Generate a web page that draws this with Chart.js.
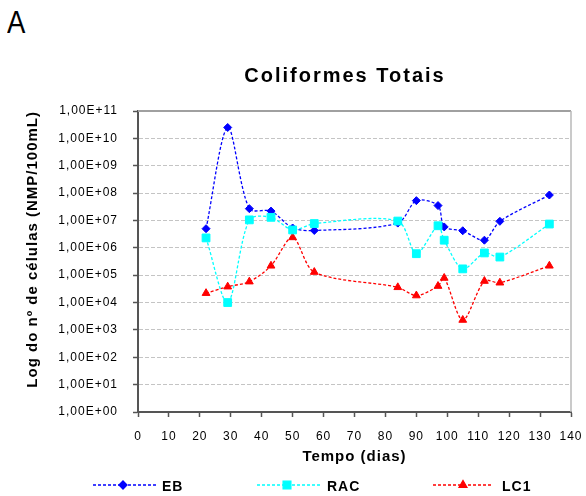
<!DOCTYPE html>
<html>
<head>
<meta charset="utf-8">
<script src="https://cdn.jsdelivr.net/npm/chart.js@4.4.0/dist/chart.umd.min.js"></script>
<style>
  body { margin: 0; background: #fff; }
  #wrap { position: relative; width: 586px; height: 496px; overflow: hidden; }
  #painel { position: absolute; left: 7px; top: 6px; font: 32px "Liberation Sans", Arial, sans-serif; line-height: 1; transform: scaleX(0.86); transform-origin: left top; }
  canvas { position: absolute; left: 0; top: 0; }
</style>
</head>
<body>
<div id="wrap">
  <div id="painel">A</div>
  <canvas id="grafico" width="586" height="496"></canvas>
</div>
<script>
// dias de coleta (iguais para os tres pontos)
var dias = [22, 29, 36, 43, 50, 57, 84, 90, 97, 99, 105, 112, 117, 133];

// NMP/100mL
var valoresEB  = [5.0e6, 2.5e10, 2.7e7, 2.2e7, 5.3e6, 4.3e6, 8.0e6, 5.3e7, 3.5e7, 5.8e6, 4.2e6, 1.9e6, 9.3e6, 8.5e7];
var valoresRAC = [2.3e6, 1.0e4, 1.05e7, 1.3e7, 4.5e6, 7.7e6, 9.5e6, 6.1e5, 6.4e6, 1.9e6, 1.7e5, 6.5e5, 4.6e5, 7.4e6];
var valoresLC1 = [2.2e4, 3.8e4, 5.8e4, 2.2e5, 2.4e6, 1.3e5, 3.6e4, 1.8e4, 4.0e4, 7.9e4, 2.3e3, 6.1e4, 5.3e4, 2.2e5];

var ticksY = [1, 1e1, 1e2, 1e3, 1e4, 1e5, 1e6, 1e7, 1e8, 1e9, 1e10, 1e11];
var rotulosY = ["1,00E+00", "1,00E+01", "1,00E+02", "1,00E+03", "1,00E+04", "1,00E+05",
                "1,00E+06", "1,00E+07", "1,00E+08", "1,00E+09", "1,00E+10", "1,00E+11"];

var fonte = '"Liberation Sans", Arial, sans-serif';
Chart.defaults.font.family = fonte;
Chart.defaults.color = '#000';

function pontos(valores) {
    return dias.map(function (d, i) { return { x: d, y: valores[i] }; });
}

// posicoes da legenda embaixo do grafico
var legendaPos = [
    { x0: 93,  x1: 156, xm: 123, xt: 162 },
    { x0: 257, x1: 320, xm: 287, xt: 327 },
    { x0: 433, x1: 493, xm: 463, xt: 502 }
];

var extras = {
    id: 'extras',
    beforeDraw: function (chart) {
        chart.ctx.letterSpacing = '1px';
    },
    beforeDatasetsDraw: function (chart) {
        var ctx = chart.ctx, a = chart.chartArea;
        ctx.save();
        ctx.strokeStyle = '#a0a0a0';
        ctx.lineWidth = 2;
        ctx.beginPath();
        ctx.moveTo(a.left, a.top);
        ctx.lineTo(a.right, a.top);
        ctx.stroke();
        ctx.strokeStyle = '#b8b8b8';
        ctx.lineWidth = 1.5;
        ctx.beginPath();
        ctx.moveTo(a.right, a.top);
        ctx.lineTo(a.right, a.bottom);
        ctx.stroke();
        ctx.restore();
    },
    afterDraw: function (chart) {
        var ctx = chart.ctx;
        ctx.save();
        // titulo
        ctx.letterSpacing = '2px';
        ctx.font = 'bold 20px ' + fonte;
        ctx.fillStyle = '#000';
        ctx.textAlign = 'center';
        ctx.textBaseline = 'alphabetic';
        ctx.fillText('Coliformes Totais', 345, 82);

        // legenda
        ctx.letterSpacing = '1px';
        var y = 485;
        chart.data.datasets.forEach(function (ds, i) {
            var p = legendaPos[i];
            ctx.save();
            ctx.strokeStyle = ds.borderColor;
            ctx.lineWidth = ds.borderWidth;
            ctx.setLineDash(ds.borderDash);
            ctx.beginPath();
            ctx.moveTo(p.x0, y);
            ctx.lineTo(p.x1, y);
            ctx.stroke();
            ctx.setLineDash([]);
            ctx.fillStyle = ds.backgroundColor;
            ctx.strokeStyle = ds.borderColor;
            Chart.helpers.drawPoint(ctx, { pointStyle: ds.pointStyle, radius: ds.pointRadius, rotation: 0, borderWidth: 1 }, p.xm, y);
            ctx.restore();
            ctx.font = 'bold 14px ' + fonte;
            ctx.textAlign = 'left';
            ctx.fillStyle = '#000';
            ctx.fillText(ds.label, p.xt, 491);
        });
        ctx.restore();
    }
};

new Chart(document.getElementById('grafico'), {
    type: 'line',
    data: {
        datasets: [{
            label: 'EB',
            data: pontos(valoresEB),
            borderColor: '#0000ff',
            backgroundColor: '#0000ff',
            borderWidth: 1.3,
            borderDash: [3, 2],
            pointStyle: 'rectRot',
            pointRadius: 4,
            pointBorderWidth: 1,
            tension: 0.3,
            order: 2
        }, {
            label: 'RAC',
            data: pontos(valoresRAC),
            borderColor: '#00ffff',
            backgroundColor: '#00ffff',
            borderWidth: 1.3,
            borderDash: [3, 2],
            pointStyle: 'rect',
            pointRadius: 5.5,
            pointBorderWidth: 1,
            tension: 0.3,
            order: 0
        }, {
            label: 'LC1',
            data: pontos(valoresLC1),
            borderColor: '#ff0000',
            backgroundColor: '#ff0000',
            borderWidth: 1.3,
            borderDash: [3, 2],
            pointStyle: 'triangle',
            pointRadius: 4.5,
            pointBorderWidth: 1,
            tension: 0.3,
            order: 1
        }]
    },
    options: {
        responsive: false,
        animation: false,
        layout: { padding: { top: 111, right: 15, left: 0, bottom: 0 } },
        plugins: {
            legend: { display: false },
            tooltip: { enabled: false }
        },
        scales: {
            x: {
                type: 'linear',
                min: 0,
                max: 140,
                afterFit: function (s) {
                    s.height = 84;
                    s.paddingLeft = 0;
                    s.paddingRight = 0;
                },
                ticks: { stepSize: 10, autoSkip: false, maxRotation: 0, padding: 12, font: { size: 12 } },
                grid: { drawOnChartArea: false, drawTicks: true, tickLength: 5, tickColor: '#555', tickWidth: 1.5 },
                border: { color: '#555', width: 2 },
                title: { display: true, text: 'Tempo (dias)', font: { size: 15, weight: 'bold' }, padding: { top: 0, bottom: 30 } }
            },
            y: {
                type: 'logarithmic',
                min: 1,
                max: 1e11,
                afterFit: function (s) {
                    s.width = 138;
                    s.paddingTop = 0;
                    s.paddingBottom = 0;
                },
                afterBuildTicks: function (s) {
                    s.ticks = ticksY.map(function (v) { return { value: v }; });
                },
                ticks: {
                    padding: 15,
                    font: { size: 12 },
                    callback: function (v) { return rotulosY[ticksY.indexOf(v)]; }
                },
                grid: {
                    color: function (c) {
                        if (c.tick && (c.tick.value === 1 || c.tick.value === 1e11)) return 'rgba(0,0,0,0)';
                        return '#c4c4c4';
                    },
                    lineWidth: 1,
                    tickLength: 5,
                    tickColor: '#555',
                    tickWidth: 1.5
                },
                border: { color: '#555', width: 2, dash: [4, 2] },
                title: {
                    display: true,
                    text: 'Log do nº de células (NMP/100mL)',
                    align: 'end',
                    font: { size: 15, weight: 'bold' },
                    padding: { top: 24, bottom: 0 }
                }
            }
        }
    },
    plugins: [extras]
});
</script>
</body>
</html>
